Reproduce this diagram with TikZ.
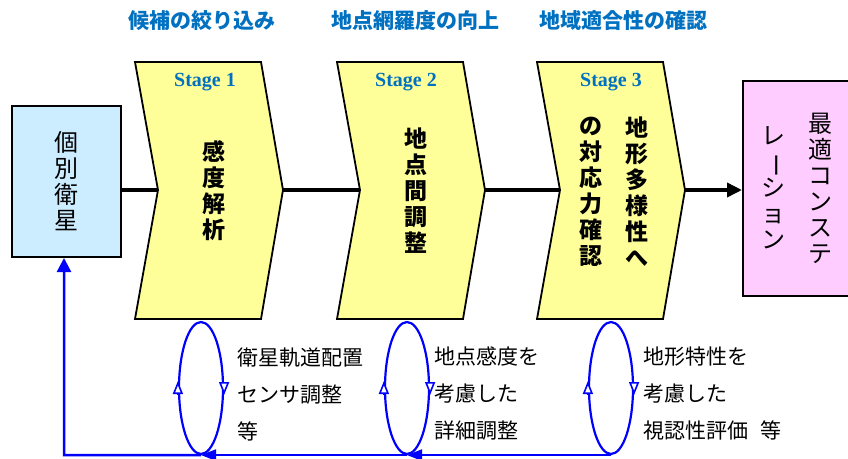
\documentclass[tikz,border=0pt]{standalone}
\usepackage{fontspec}
\usetikzlibrary{arrows.meta,shapes.geometric}
\newfontfamily\jp{Noto Sans CJK JP}
\newfontfamily\stagefont{Liberation Serif}
\definecolor{hdblue}{HTML}{0070C0}
\definecolor{chevfill}{HTML}{FFFF99}
\definecolor{boxblue}{HTML}{CCECFF}
\definecolor{boxpink}{HTML}{FFCCFF}
\definecolor{loopblue}{HTML}{0000FF}
\begin{document}
\begin{tikzpicture}[x=1pt,y=-1pt,
  chev/.style={draw=black,line width=1.8pt,fill=chevfill,line join=miter},
  sidebox/.style={draw=black,line width=2pt,inner sep=0pt},
  conn/.style={draw=black,line width=3.5pt},
  heading/.style={text=hdblue,font=\jp\bfseries\fontsize{21}{23}\selectfont,inner sep=0pt},
  stagelbl/.style={text=hdblue,font=\stagefont\bfseries\fontsize{20}{22}\selectfont,inner sep=0pt},
  vbold/.style={align=center,inner sep=0pt,font=\jp\bfseries\fontsize{23}{26}\selectfont},
  vreg/.style={align=center,inner sep=0pt,font=\jp\fontsize{24}{26}\selectfont},
  note/.style={align=left,anchor=west,inner sep=0pt,font=\jp\fontsize{21}{37}\selectfont},
  loopell/.style={ellipse,draw=loopblue,line width=2.2pt,minimum width=44pt,minimum height=132pt,inner sep=0pt},
  looptip/.style={draw=loopblue,line width=2.2pt,-{Triangle[fill=white,length=13pt,width=10pt,line width=1.6pt]}},
  fb/.style={draw=loopblue,line width=2.5pt,-{Triangle[length=15pt,width=11pt]}},
  fbup/.style={draw=loopblue,line width=2.5pt,-{Triangle[length=14pt,width=14pt]}}]
\useasboundingbox (0,0) rectangle (848,458);
\clip (0,0) rectangle (848,458);

% headings
\node[heading] (h1) at (202,21) {候補の絞り込み};
\node[heading] (h2) at (415,21) {地点網羅度の向上};
\node[heading] (h3) at (623,21) {地域適合性の確認};

% side boxes
\node[sidebox,fill=boxblue,minimum width=109pt,minimum height=151pt] (lb) at (66.5,181.5) {};
\node[vreg] (lbt) at (66.5,181.5) {個\\別\\衛\\星};
\node[sidebox,fill=boxpink,minimum width=109pt,minimum height=215pt] (rb) at (797.5,188.5) {};
\node[vreg] (rbt1) at (820,188) {最\\適\\コ\\ン\\ス\\テ};
\node[vreg] (rbt2) at (773,188) {レ\\\rotatebox[origin=c]{-90}{ー}\\シ\\ョ\\ン};

% chevrons
\foreach \i/\x in {1/135,2/337,3/537}{
  \draw[chev] (\x,62) -- ++(126,0) -- ++(22,128) -- ++(-22,129) -- ++(-126,0) -- ++(23,-129) -- cycle;
  \coordinate (c\i w) at (\x+23,190);
  \coordinate (c\i e) at (\x+148,190);
}

% connectors
\draw[conn] (lb.east |- c1w) -- (c1w);
\draw[conn] (c1e) -- (c2w);
\draw[conn] (c2e) -- (c3w);
\draw[conn,-{Triangle[length=15pt,width=14pt]}] (c3e) -- (c3e -| rb.west);

% stage labels
\node[stagelbl] (s1) at (205,82) {Stage 1};
\node[stagelbl] (s2) at (406,82) {Stage 2};
\node[stagelbl] (s3) at (611,82) {Stage 3};

% stage texts
\node[vbold] (t1) at (214,191) {感\\度\\解\\析};
\node[vbold] (t2) at (416,191) {地\\点\\間\\調\\整};
\node[vbold] (t3a) at (637,192) {地\\形\\多\\様\\性\\へ};
\node[vbold] (t3b) at (591,192) {の\\対\\応\\力\\確\\認};

% loops
\foreach \i/\x in {1/201,2/407,3/611}{
  \node[loopell] (l\i) at (\x,388) {};
  \draw[looptip] ([yshift=-6pt]l\i.west) -- ([yshift=7pt]l\i.west);
  \draw[looptip] ([yshift=6pt]l\i.east) -- ([yshift=-7pt]l\i.east);
}

% loop notes
\node[note] (n1) at (237,394) {衛星軌道配置\\センサ調整\\等};
\node[note] (n2) at (434,394) {地点感度を\\考慮した\\詳細調整};
\node[note] (n3) at (643,394) {地形特性を\\考慮した\\視認性評価\hspace{12pt}等};

% feedback
\coordinate (fbc) at (64,455);
\draw[fb] (l3.south) -- (l2.south);
\draw[fb] (l2.south) -- (l1.south);
\draw[fbup] (l1.south) -- (fbc) -- (fbc |- lb.south);
\end{tikzpicture}
\end{document}
